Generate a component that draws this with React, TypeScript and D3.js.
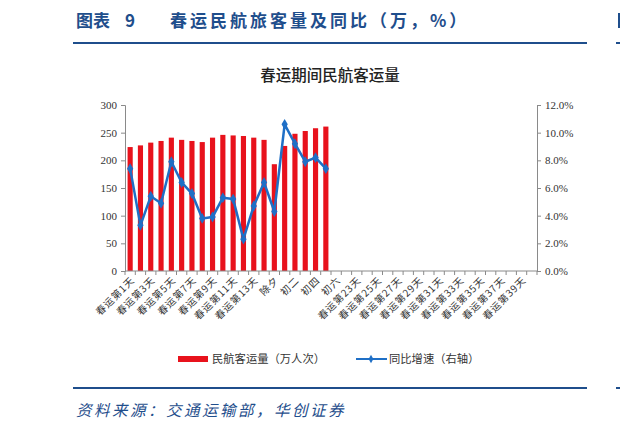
import * as d3 from 'd3';
import React, { useEffect, useRef } from 'react';

const days: string[] = [
  '春运第1天', '春运第2天', '春运第3天', '春运第4天', '春运第5天', '春运第6天', '春运第7天',
  '春运第8天', '春运第9天', '春运第10天', '春运第11天', '春运第12天', '春运第13天', '春运第14天',
  '除夕', '初一', '初二', '初三', '初四', '初五', '初六',
  '春运第22天', '春运第23天', '春运第24天', '春运第25天', '春运第26天', '春运第27天', '春运第28天',
  '春运第29天', '春运第30天', '春运第31天', '春运第32天', '春运第33天', '春运第34天', '春运第35天',
  '春运第36天', '春运第37天', '春运第38天', '春运第39天', '春运第40天',
];

// 民航客运量（万人次）
const passengers: number[] = [
  224, 227, 232, 235, 241, 237, 235, 233, 241, 246, 245, 244, 241, 237, 193, 226, 248, 253, 258, 261,
];

// 同比增速（%）
const growth: number[] = [
  7.4, 3.3, 5.4, 4.9, 7.9, 6.4, 5.6, 3.8, 3.9, 5.3, 5.2, 2.3, 4.7, 6.4, 4.3, 10.6, 9.2, 7.9, 8.2, 7.4,
];

const leftTicks: number[] = [0, 50, 100, 150, 200, 250, 300];
const rightTicks: number[] = [0, 2, 4, 6, 8, 10, 12];

const CJK = '"Noto Sans CJK SC", sans-serif';
const SERIF = '"Liberation Serif", "DejaVu Serif", serif';
const NAVY = '#1f4e8c';
const RED = '#e8121c';
const BLUE = '#1f6fc6';

export default function App() {
  const ref = useRef<SVGSVGElement>(null);

  useEffect(() => {
    const svg = d3.select(ref.current);
    svg.selectAll('*').remove();

    const left = 125;
    const right = 537;
    const top = 105;
    const bottom = 271;

    const x = d3.scaleBand<string>().domain(days).range([left, right]).paddingInner(0.5).paddingOuter(0.25);
    const xStep = (right - left) / days.length;
    const y = d3.scaleLinear().domain([0, 300]).range([bottom, top]);
    const y2 = d3.scaleLinear().domain([0, 12]).range([bottom, top]);

    // header
    const header = (tx: number, s: string, spacing = 0) =>
      svg.append('text').attr('x', tx).attr('y', 27).attr('fill', NAVY)
        .style('font-family', CJK).style('font-weight', 700).style('font-size', '17px')
        .style('letter-spacing', `${spacing}px`)
        .text(s);
    header(76, '图表');
    header(125, '9');
    header(170, '春运民航旅客量及同比（万，%）', 3);
    svg.append('line').attr('x1', 73).attr('x2', 587).attr('y1', 43).attr('y2', 43)
      .attr('stroke', NAVY).attr('stroke-width', 2);
    svg.append('line').attr('x1', 616).attr('x2', 620).attr('y1', 43).attr('y2', 43)
      .attr('stroke', NAVY).attr('stroke-width', 2);
    svg.append('rect').attr('x', 618).attr('y', 13).attr('width', 2).attr('height', 15).attr('fill', NAVY);

    // chart title
    svg.append('text').attr('x', 330).attr('y', 81).attr('text-anchor', 'middle').attr('fill', '#222')
      .style('font-family', CJK).style('font-size', '15.5px').style('font-weight', 500)
      .text('春运期间民航客运量');

    // bars
    svg.append('g').selectAll('rect').data(passengers).join('rect')
      .attr('x', (_d, i) => x(days[i]) ?? 0)
      .attr('y', (d) => y(d))
      .attr('width', x.bandwidth())
      .attr('height', (d) => y(0) - y(d))
      .attr('fill', RED);

    // axes
    const axisColor = '#8a8a8a';
    const leftAxis = svg.append('g').attr('transform', `translate(${left},0)`)
      .call(d3.axisLeft(y).tickValues(leftTicks).tickSize(4).tickPadding(4));
    const rightAxis = svg.append('g').attr('transform', `translate(${right},0)`)
      .call(d3.axisRight(y2).tickValues(rightTicks).tickSize(4).tickPadding(4)
        .tickFormat((d) => `${(+d).toFixed(1)}%`));
    [leftAxis, rightAxis].forEach((g) => {
      g.select('.domain').attr('stroke', axisColor);
      g.selectAll('.tick line').attr('stroke', axisColor);
      g.selectAll('.tick text').attr('fill', '#333')
        .style('font-family', SERIF).style('font-size', '11px');
    });

    // x axis
    const xAxis = svg.append('g');
    xAxis.append('line').attr('x1', left).attr('x2', right).attr('y1', bottom).attr('y2', bottom)
      .attr('stroke', axisColor);
    xAxis.selectAll('line.tk').data(d3.range(days.length + 1)).join('line')
      .attr('class', 'tk')
      .attr('x1', (i) => left + i * xStep).attr('x2', (i) => left + i * xStep)
      .attr('y1', bottom).attr('y2', bottom + 4)
      .attr('stroke', axisColor);
    xAxis.selectAll('text').data(days.filter((_d, i) => i % 2 === 0)).join('text')
      .attr('transform', (d) => `translate(${(x(d) ?? 0) + x.bandwidth() / 2 + 5},${bottom + 10}) rotate(-45)`)
      .attr('text-anchor', 'end')
      .attr('fill', '#333')
      .style('font-family', CJK).style('font-size', '10px').style('letter-spacing', '0.8px')
      .text((d) => d);

    // line
    const cx = (i: number) => (x(days[i]) ?? 0) + x.bandwidth() / 2;
    const line = d3.line<number>().x((_d, i) => cx(i)).y((d) => y2(d));
    svg.append('path').datum(growth).attr('d', line).attr('fill', 'none')
      .attr('stroke', BLUE).attr('stroke-width', 2.5).attr('stroke-linejoin', 'round');
    svg.append('g').selectAll('path').data(growth).join('path')
      .attr('transform', (d, i) => `translate(${cx(i)},${y2(d)})`)
      .attr('d', d3.symbol(d3.symbolDiamond, 34)())
      .attr('fill', BLUE);

    // legend
    svg.append('rect').attr('x', 178).attr('y', 356).attr('width', 30).attr('height', 6).attr('fill', RED);
    svg.append('text').attr('x', 212).attr('y', 363).attr('fill', '#333')
      .style('font-family', CJK).style('font-size', '11.3px')
      .text('民航客运量（万人次）');
    svg.append('line').attr('x1', 356).attr('x2', 387).attr('y1', 359).attr('y2', 359)
      .attr('stroke', BLUE).attr('stroke-width', 2);
    svg.append('path').attr('transform', 'translate(371,359)')
      .attr('d', d3.symbol(d3.symbolDiamond, 20)()).attr('fill', BLUE);
    svg.append('text').attr('x', 389).attr('y', 363).attr('fill', '#333')
      .style('font-family', CJK).style('font-size', '11.3px')
      .text('同比增速（右轴）');

    // footer
    svg.append('line').attr('x1', 73).attr('x2', 587).attr('y1', 388).attr('y2', 388)
      .attr('stroke', NAVY).attr('stroke-width', 2);
    svg.append('line').attr('x1', 616).attr('x2', 620).attr('y1', 388).attr('y2', 388)
      .attr('stroke', NAVY).attr('stroke-width', 2);
    svg.append('text').attr('x', 76).attr('y', 416).attr('fill', NAVY)
      .style('font-family', CJK).style('font-style', 'italic').style('font-size', '15.5px')
      .style('letter-spacing', '2.5px')
      .text('资料来源：交通运输部，华创证券');
  }, []);

  return (
    <svg
      ref={ref}
      width={620}
      height={429}
      style={{ position: 'absolute', left: 0, top: 0, background: '#fff' }}
    />
  );
}
